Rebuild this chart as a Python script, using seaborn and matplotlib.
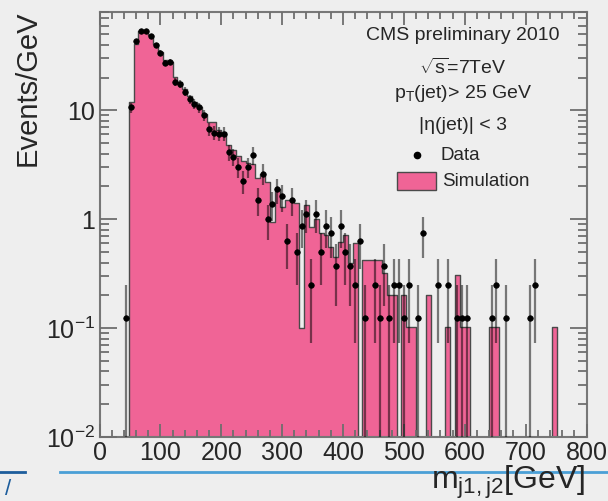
import numpy as np
import pandas as pd
import matplotlib
matplotlib.use("Agg")
import matplotlib.pyplot as plt
import seaborn as sns
from matplotlib.ticker import MultipleLocator, LogLocator, FixedLocator, FixedFormatter, NullFormatter
from matplotlib.lines import Line2D
from matplotlib.patches import Rectangle

# ---- histogram binning (GeV) ----
bin_width = 8
first_edge = 40

# simulated dijet mass spectrum, Events/GeV per bin
sim_per_gev = [
    0, 11.9, 41, 54, 54, 48.7, 41, 34, 29, 27.7,
    20.2, 18.2, 15.8, 13.4, 11.9, 10.7, 9.3, 7.8, 7.8, 6.6,
    6.3, 4.8, 4.3, 3.8, 3.4, 3.3, 3.2, 2.4, 2.6, 2.2,
    0.95, 1.9, 1.3, 1.5, 1.5, 1.4, 0.10, 1.35, 0.85, 1.0,
    0.75, 0.72, 0.55, 0.45, 0.62, 0.72, 0.40, 0.60, 0, 0.42,
    0.42, 0.42, 0.42, 0.32, 0.20, 0.20, 0, 0.20, 0.103, 0.103,
    0, 0, 0.20, 0, 0, 0, 0.103, 0, 0.31, 0.103,
    0.103, 0, 0, 0, 0, 0.103, 0.103, 0, 0, 0,
    0, 0, 0, 0, 0, 0, 0, 0, 0.103, 0,
    0, 0, 0, 0, 0,
]

# observed events per bin
data_counts = [
    1, 85, 346, 426, 426, 382, 316, 270, 218, 222,
    146, 141, 119, 101, 92, 85, 72, 54, 50, 49,
    49, 33, 30, 24, 18, 24, 31, 12, 21, 8,
    11, 15, 13, 5, 12, 4, 7, 9, 2, 9,
    4, 7, 6, 3, 7, 4, 3, 2, 5, 1,
    0, 2, 1, 3, 1, 2, 2, 1, 2, 0,
    1, 6, 0, 0, 2, 0, 2, 0, 1, 1,
    1, 0, 0, 0, 0, 1, 2, 0, 1, 0,
    0, 0, 0, 1, 2, 0, 0, 0, 0, 0,
    0, 0, 0, 0, 0,
]

x_ticks = [0, 100, 200, 300, 400, 500, 600, 700, 800]
y_ticks = [0.01, 0.1, 1, 10]
y_tick_labels = ["$10^{-2}$", "$10^{-1}$", "1", "10"]

info_lines = ["CMS preliminary 2010", r"$\sqrt{\mathrm{s}}$=7TeV",
              r"p$_{\mathrm{T}}$(jet)> 25 GeV", "|η(jet)| < 3"]

pink = "#f06496"
bg = "#eeeeee"
ink = "#262626"

plt.rcParams["font.family"] = ["Liberation Sans", "DejaVu Sans"]
plt.rcParams["mathtext.fontset"] = "custom"
plt.rcParams["mathtext.rm"] = "Liberation Sans"
plt.rcParams["mathtext.it"] = "Liberation Sans:italic"
plt.rcParams["mathtext.bf"] = "Liberation Sans:bold"
plt.rcParams["axes.unicode_minus"] = False

sim = np.array(sim_per_gev, dtype=float)
counts = np.array(data_counts, dtype=float)
n_bins = len(sim)
centers = first_edge + bin_width * (np.arange(n_bins) + 0.5)
last_edge = first_edge + bin_width * n_bins
hist_df = pd.DataFrame({"mass": centers, "sim": sim})

fig = plt.figure(figsize=(6.08, 5.01), dpi=100, facecolor=bg)
ax = fig.add_axes([99.5 / 608, 1 - 437 / 501, 487 / 608, 425 / 501])
ax.set_facecolor(bg)
ax.set_axisbelow(False)

# simulation histogram
sns.histplot(data=hist_df, x="mass", weights="sim", binwidth=bin_width,
             binrange=(first_edge, last_edge), element="step", fill=True,
             color=pink, alpha=1.0, edgecolor="#4a4a4a", linewidth=1.0,
             ax=ax, zorder=2)

# data points with Poisson errors, per GeV
has = counts > 0
y = counts[has] / bin_width
err = np.sqrt(counts[has]) / bin_width
lo = y - np.maximum(y - err, 1e-4)
hi = err
ax.errorbar(centers[has], y, yerr=[lo, hi], fmt="none", ecolor=(0, 0, 0, 0.5),
            elinewidth=1.6, capsize=0, zorder=3)
sns.scatterplot(x=centers[has], y=y, color="black", s=16, edgecolor="black",
                linewidth=0.5, ax=ax, zorder=4, legend=False)

ax.set_yscale("log")
ax.set_xlim(0, 800)
ax.set_ylim(0.01, 80)

ax.xaxis.set_major_locator(FixedLocator(x_ticks))
ax.xaxis.set_minor_locator(MultipleLocator(20))
ax.yaxis.set_major_locator(FixedLocator(y_ticks))
ax.yaxis.set_major_formatter(FixedFormatter(y_tick_labels))
ax.yaxis.set_minor_locator(LogLocator(base=10, subs=range(2, 10)))
ax.yaxis.set_minor_formatter(NullFormatter())

ax.tick_params(which="both", direction="in", top=True, right=True,
               color="#6e6e6e", labelcolor=ink, labelsize=18, width=1.3, pad=3)
ax.xaxis.set_tick_params(which="major", length=9.5)
ax.xaxis.set_tick_params(which="minor", length=5)
ax.yaxis.set_tick_params(which="major", length=12)
ax.yaxis.set_tick_params(which="minor", length=6.5)
for s in ax.spines.values():
    s.set_color("#777777")
    s.set_linewidth(1.5)

ax.set_xlabel("")
ax.set_ylabel("")
fig.text(28 / 608, 1 - 88 / 501, "Events/GeV", rotation=90, ha="center",
         va="center", fontsize=21, color=ink)
fig.text(585 / 608, 1 - 489 / 501, r"m$_{\mathrm{j1,j2}}$[GeV]", ha="right",
         va="baseline", fontsize=23, color=ink)

# run information
for txt, yc in zip(info_lines, [35, 68, 93, 126]):
    fig.text(463 / 608, 1 - yc / 501, txt, ha="center", va="center",
             fontsize=14, color=ink)

# legend entries
fig.add_artist(Line2D([417 / 608], [1 - 155 / 501], marker="o", color="black",
                      markersize=4.5, linestyle="none"))
fig.text(440 / 608, 1 - 155 / 501, "Data", ha="left", va="center",
         fontsize=13.5, color=ink)
fig.add_artist(Rectangle((397 / 608, 1 - 190 / 501), 39 / 608, 18 / 501,
                         transform=fig.transFigure, facecolor=pink,
                         edgecolor="#4a4a4a", linewidth=1.0))
fig.text(442 / 608, 1 - 181 / 501, "Simulation", ha="left", va="center",
         fontsize=13.5, color=ink)

# slide rule beneath the plot
fig.add_artist(Line2D([60 / 608, 1.0], [1 - 471.5 / 501] * 2, color="#4a9fd6",
                      linewidth=2))
fig.add_artist(Line2D([0, 25 / 608], [1 - 472 / 501] * 2, color="#1d5d9c",
                      linewidth=2))
fig.text(5 / 608, 1 - 500 / 501, "/", ha="left", va="bottom", fontsize=16,
         color="#1d5d9c")

fig.savefig("out.png", dpi=100, facecolor=bg)
